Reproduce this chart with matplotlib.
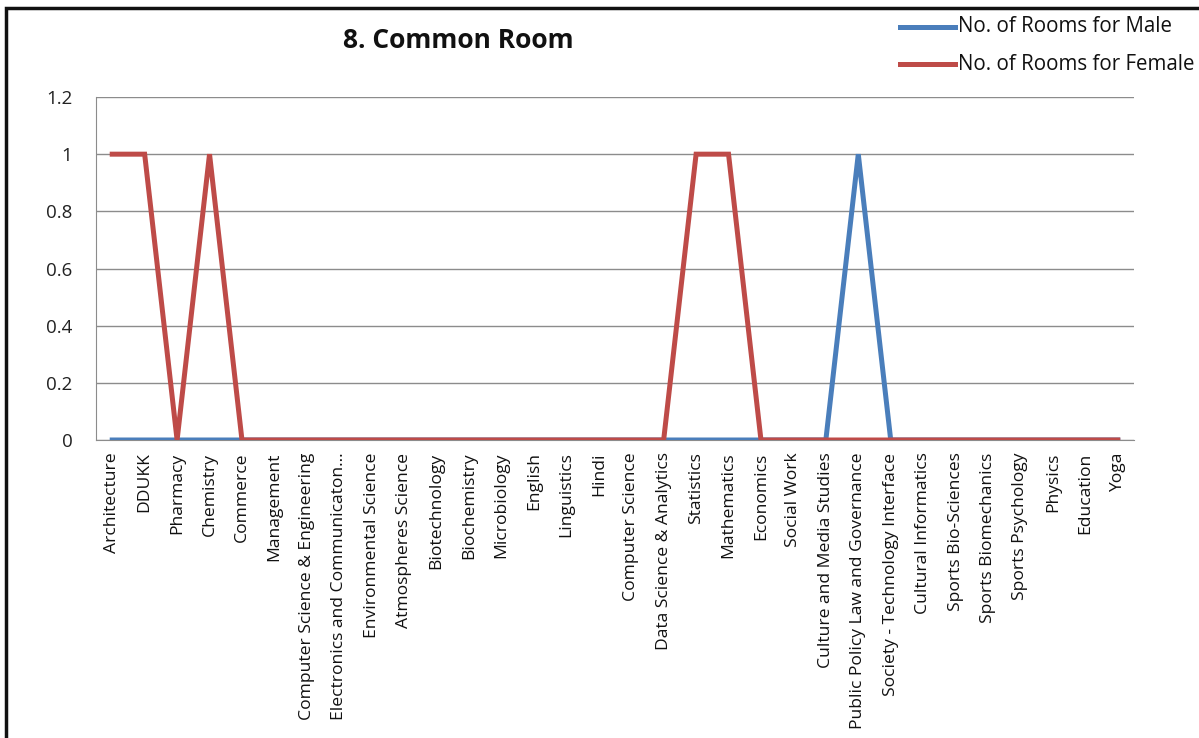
import matplotlib
matplotlib.use("Agg")
import matplotlib.pyplot as plt
from matplotlib.lines import Line2D
from matplotlib.patches import Rectangle

categories = ["Architecture", "DDUKK", "Pharmacy", "Chemistry", "Commerce", "Management",
              "Computer Science & Engineering", "Electronics and Communicaton...",
              "Environmental Science", "Atmospheres Science", "Biotechnology", "Biochemistry",
              "Microbiology", "English", "Linguistics", "Hindi", "Computer Science",
              "Data Science & Analytics", "Statistics", "Mathematics", "Economics",
              "Social Work", "Culture and Media Studies", "Public Policy Law and Governance",
              "Society - Technology Interface", "Cultural Informatics", "Sports Bio-Sciences",
              "Sports Biomechanics", "Sports Psychology", "Physics", "Education", "Yoga"]
male = [0, 0, 0, 0, 0, 0, 0, 0, 0, 0, 0, 0, 0, 0, 0, 0, 0, 0, 0, 0, 0, 0, 0, 1,
        0, 0, 0, 0, 0, 0, 0, 0]
female = [1, 1, 0, 1, 0, 0, 0, 0, 0, 0, 0, 0, 0, 0, 0, 0, 0, 0, 1, 1, 0, 0, 0, 0,
          0, 0, 0, 0, 0, 0, 0, 0]
yticks = [0, 0.2, 0.4, 0.6, 0.8, 1, 1.2]
ytick_labels = ["0", "0.2", "0.4", "0.6", "0.8", "1", "1.2"]
series_names = ["No. of Rooms for Male", "No. of Rooms for Female"]
title = "8. Common Room"

plt.rcParams['font.family'] = ['Open Sans', 'DejaVu Sans']

W, H = 1199, 738
fig = plt.figure(figsize=(W / 100, H / 100), dpi=100)
ax = fig.add_axes([96 / W, 1 - 440 / H, (1134 - 96) / W, (440 - 97) / H])

blue = "#4A7EBB"
red = "#BE4B48"
x = [i + 0.5 for i in range(len(categories))]
ax.plot(x, male, color=blue, lw=3.6, solid_joinstyle="miter", zorder=3)
ax.plot(x, female, color=red, lw=3.6, solid_joinstyle="miter", zorder=4)

ax.set_xlim(0, len(categories))
ax.set_ylim(0, 1.2)
ax.set_yticks(yticks)
ax.set_yticklabels(ytick_labels, fontsize=13.5, color="#222222")
ax.set_xticks(x)
ax.set_xticklabels(categories, rotation=90, fontsize=12.6, color="#111111",
                   fontfamily=["Open Sans", "DejaVu Sans"])
ax.tick_params(axis="x", length=0, pad=9)
ax.tick_params(axis="y", length=0, pad=17)
ax.grid(axis="y", color="#8C8C8C", lw=1)
ax.set_axisbelow(True)
for s in ["top", "right"]:
    ax.spines[s].set_visible(False)
ax.spines["left"].set_color("#8C8C8C")
ax.spines["bottom"].set_color("#8C8C8C")

fig.text(458 / W, 1 - 40 / H, title, fontsize=19, fontweight="bold",
         ha="center", va="center", color="#111111")

# legend
for yy, col, name in [(27, blue, series_names[0]), (64, red, series_names[1])]:
    fig.add_artist(Line2D([900 / W, 955 / W], [1 - yy / H, 1 - yy / H],
                          color=col, lw=3.6, transform=fig.transFigure))
    fig.text(958 / W, 1 - yy / H, name, fontsize=14.8, ha="left", va="center",
             color="#111111")

# outer border (top and left visible)
fig.add_artist(Rectangle((6 / W, -0.1), 1.2, 1 - 8 / H + 0.1, fill=False,
                         lw=2.5, edgecolor="#111111", transform=fig.transFigure))

fig.savefig("out.png", dpi=100)
